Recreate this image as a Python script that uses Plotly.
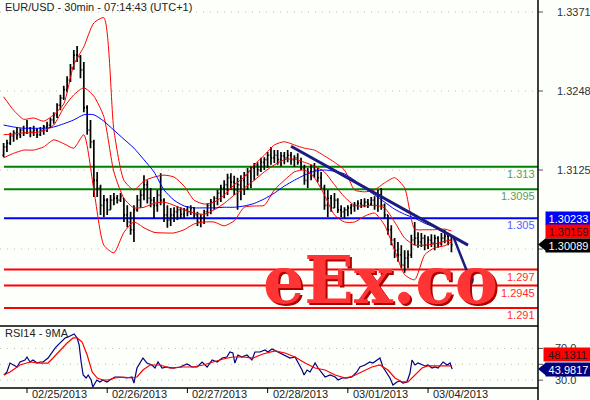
import plotly.graph_objects as go

# ---------------- data ----------------
bar_hours = [h for h in range(-7, 128)]  # hourly bar times, hours from 02/25 00:00 (trading hours)

bar_open = [1.3148,1.3161,1.3167,1.3178,1.3183,1.3180,1.3187,1.3183,1.3190,1.3184,
1.3187,1.3180,1.3187,1.3192,1.3195,1.3203,1.3211,1.3226,1.3237,1.3250,
1.3265,1.3284,1.3304,1.3301,1.3281,1.3222,1.3187,1.3169,1.3109,1.3097,
1.3070,1.3078,1.3063,1.3078,1.3081,1.3078,1.3081,1.3055,1.3044,1.3032,
1.3063,1.3078,1.3086,1.3102,1.3081,1.3078,1.3070,1.3086,1.3078,1.3055,
1.3047,1.3055,1.3060,1.3063,1.3056,1.3063,1.3060,1.3066,1.3055,1.3044,
1.3050,1.3060,1.3070,1.3075,1.3081,1.3089,1.3097,1.3102,1.3113,1.3106,
1.3094,1.3102,1.3109,1.3117,1.3122,1.3128,1.3133,1.3125,1.3137,1.3141,
1.3148,1.3144,1.3148,1.3141,1.3147,1.3144,1.3148,1.3141,1.3144,1.3137,
1.3128,1.3109,1.3122,1.3117,1.3125,1.3113,1.3097,1.3070,1.3081,1.3066,
1.3078,1.3063,1.3060,1.3063,1.3066,1.3069,1.3070,1.3073,1.3070,1.3075,
1.3072,1.3078,1.3070,1.3086,1.3070,1.3055,1.3032,1.3016,1.3000,1.2993,
1.2977,1.2988,1.2993,1.3016,1.3019,1.3013,1.3019,1.3008,1.3016,1.3011,
1.3019,1.3010,1.3019,1.3022,1.3016]

bar_high = [1.3167,1.3172,1.3183,1.3187,1.3192,1.3190,1.3194,1.3203,1.3192,1.3194,
1.3190,1.3192,1.3195,1.3200,1.3206,1.3215,1.3229,1.3242,1.3256,1.3271,
1.3290,1.3312,1.3318,1.3304,1.3293,1.3226,1.3203,1.3172,1.3122,1.3102,
1.3086,1.3081,1.3086,1.3089,1.3086,1.3089,1.3081,1.3070,1.3060,1.3070,
1.3086,1.3094,1.3117,1.3109,1.3097,1.3083,1.3094,1.3120,1.3081,1.3070,
1.3066,1.3067,1.3069,1.3067,1.3066,1.3069,1.3070,1.3067,1.3060,1.3056,
1.3063,1.3073,1.3080,1.3084,1.3094,1.3102,1.3109,1.3119,1.3120,1.3116,
1.3113,1.3117,1.3122,1.3128,1.3130,1.3136,1.3137,1.3144,1.3145,1.3153,
1.3161,1.3156,1.3156,1.3153,1.3153,1.3156,1.3153,1.3148,1.3151,1.3144,
1.3133,1.3128,1.3133,1.3136,1.3128,1.3122,1.3102,1.3094,1.3086,1.3089,
1.3081,1.3070,1.3067,1.3070,1.3072,1.3075,1.3078,1.3080,1.3081,1.3080,
1.3083,1.3084,1.3094,1.3097,1.3073,1.3055,1.3039,1.3019,1.3013,1.3008,
1.3000,1.3000,1.3024,1.3044,1.3028,1.3027,1.3024,1.3022,1.3025,1.3024,
1.3022,1.3027,1.3032,1.3025,1.3022]

bar_low = [1.3145,1.3153,1.3164,1.3169,1.3172,1.3175,1.3178,1.3181,1.3176,1.3178,
1.3175,1.3178,1.3180,1.3184,1.3190,1.3197,1.3206,1.3218,1.3234,1.3246,
1.3262,1.3281,1.3293,1.3268,1.3215,1.3180,1.3159,1.3083,1.3083,1.3055,
1.3052,1.3055,1.3063,1.3070,1.3073,1.3075,1.3044,1.3036,1.3024,1.3013,
1.3060,1.3066,1.3078,1.3073,1.3067,1.3050,1.3060,1.3070,1.3044,1.3035,
1.3038,1.3044,1.3047,1.3049,1.3050,1.3053,1.3055,1.3050,1.3038,1.3036,
1.3041,1.3053,1.3056,1.3063,1.3070,1.3075,1.3081,1.3086,1.3094,1.3086,
1.3063,1.3078,1.3086,1.3094,1.3097,1.3109,1.3116,1.3122,1.3125,1.3128,
1.3133,1.3136,1.3133,1.3131,1.3134,1.3137,1.3133,1.3130,1.3133,1.3125,
1.3102,1.3097,1.3109,1.3113,1.3106,1.3094,1.3063,1.3052,1.3060,1.3066,
1.3058,1.3052,1.3050,1.3053,1.3056,1.3060,1.3063,1.3066,1.3067,1.3066,
1.3069,1.3063,1.3060,1.3063,1.3050,1.3024,1.3008,1.2988,1.2982,1.2972,
1.2965,1.2972,1.2988,1.3008,1.3004,1.3005,1.3000,1.3002,1.3005,1.3000,
1.3004,1.3007,1.3011,1.3008,1.2997]

bar_close = [1.3161,1.3167,1.3178,1.3183,1.3180,1.3187,1.3183,1.3190,1.3184,1.3187,
1.3180,1.3187,1.3192,1.3195,1.3203,1.3211,1.3226,1.3237,1.3250,1.3265,
1.3284,1.3304,1.3301,1.3281,1.3222,1.3187,1.3169,1.3109,1.3097,1.3070,
1.3078,1.3063,1.3078,1.3081,1.3078,1.3084,1.3055,1.3044,1.3032,1.3063,
1.3078,1.3086,1.3102,1.3081,1.3078,1.3070,1.3086,1.3078,1.3055,1.3047,
1.3055,1.3060,1.3063,1.3056,1.3063,1.3060,1.3066,1.3055,1.3044,1.3050,
1.3060,1.3070,1.3075,1.3081,1.3089,1.3097,1.3102,1.3113,1.3106,1.3094,
1.3102,1.3109,1.3117,1.3122,1.3128,1.3133,1.3125,1.3137,1.3141,1.3148,
1.3144,1.3148,1.3141,1.3147,1.3144,1.3148,1.3141,1.3144,1.3137,1.3128,
1.3109,1.3122,1.3117,1.3125,1.3113,1.3097,1.3070,1.3081,1.3066,1.3078,
1.3063,1.3060,1.3063,1.3066,1.3069,1.3070,1.3073,1.3070,1.3075,1.3072,
1.3078,1.3070,1.3086,1.3070,1.3055,1.3032,1.3016,1.3000,1.2993,1.2977,
1.2988,1.2993,1.3016,1.3019,1.3013,1.3019,1.3008,1.3016,1.3011,1.3019,
1.3010,1.3019,1.3022,1.3016,1.30089]

band_hours = [-7,-4,-1,2,5,8,11,14,17,20,23,26,29,32,35,38,41,44,47,50,53,56,59,62,
              65,68,71,74,77,80,83,86,89,92,95,98,101,104,107,110,113,116,119,122,125,127]
bb_upper = [1.3239,1.3218,1.3204,1.3206,1.3201,1.3211,1.3228,1.3289,1.3317,1.3354,1.3362,1.3187,
            1.3109,1.3094,1.3108,1.3114,1.3117,1.3114,1.3100,1.3078,1.3072,1.3075,1.3086,1.3102,
            1.3114,1.3133,1.3148,1.3164,1.3169,1.3164,1.3159,1.3156,1.3147,1.3137,1.3125,1.3094,
            1.3091,1.3094,1.3105,1.3113,1.3097,1.3033,1.3032,1.3032,1.3033,1.3030]
bb_middle = [1.3180,1.3181,1.3183,1.3183,1.3186,1.3195,1.3222,1.3242,1.3253,1.3240,1.3208,1.3122,
             1.3081,1.3066,1.3067,1.3073,1.3075,1.3070,1.3063,1.3058,1.3056,1.3063,1.3073,1.3086,
             1.3097,1.3109,1.3122,1.3133,1.3141,1.3142,1.3137,1.3131,1.3122,1.3102,1.3083,1.3070,
             1.3069,1.3070,1.3066,1.3044,1.3019,1.3008,1.3008,1.3010,1.3014,1.30159]
bb_lower = [1.3144,1.3151,1.3156,1.3156,1.3161,1.3172,1.3166,1.3159,1.3180,1.3094,1.3008,1.2996,
            1.3028,1.3044,1.3035,1.3028,1.3027,1.3027,1.3032,1.3041,1.3044,1.3044,1.3038,1.3046,
            1.3067,1.3069,1.3070,1.3094,1.3109,1.3122,1.3125,1.3113,1.3086,1.3055,1.3044,1.3044,
            1.3053,1.3058,1.3039,1.3000,1.2962,1.2954,1.2993,1.3004,1.3007,1.3013]
ma_slow = [1.3195,1.3192,1.3190,1.3190,1.3190,1.3192,1.3197,1.3203,1.3211,1.3211,1.3201,1.3187,
           1.3173,1.3159,1.3141,1.3122,1.3094,1.3078,1.3069,1.3066,1.3066,1.3066,1.3067,1.3067,
           1.3069,1.3073,1.3080,1.3089,1.3100,1.3109,1.3117,1.3123,1.3125,1.3123,1.3119,1.3109,
           1.3097,1.3086,1.3075,1.3064,1.3056,1.3050,1.3042,1.3036,1.3028,1.30233]

rsi_hours = [-6.9,-6.0,-5.1,-4.2,-3.0,-2.1,-0.6,0,0.9,1.8,3.0,3.9,4.8,6.3,7.5,8.4,9.3,10.5,11.4,12.3,
             13.5,14.1,15.0,15.6,16.2,16.8,17.7,18.3,19.2,19.7,20.9,21.8,22.7,23.9,24.8,26.3,27.8,29.9,
             31.4,32.0,32.9,33.8,34.7,35.9,37.4,38.3,39.2,40.4,41.9,43.7,45.8,47.9,49.4,50.9,52.4,53.9,
             55.4,56.9,58.4,59.8,60.7,61.6,62.2,63.1,64.3,65.8,67.3,68.2,69.7,71.2,72.1,73.3,75.1,77.2,
             78.7,80.2,81.1,82.3,82.9,83.8,84.7,86.2,87.1,88.3,89.2,90.7,92.2,93.1,94.3,95.8,97.2,98.7,
             99.6,101.1,102.6,103.5,104.7,105.6,106.5,107.7,108.6,109.5,110.7,111.6,112.5,113.7,114.6,
             115.2,116.1,117.0,118.2,119.1,120.0,121.2,122.1,123.0,124.5,125.7,126.6,127.2]
rsi_values = [36.5,40.3,51.6,49.1,46.6,52.9,55.4,59.2,52.9,55.4,51.6,52.9,52.9,57.9,65.5,70.5,74.4,79.4,83.2,84.5,
              87.0,88.2,83.2,74.4,52.9,36.5,32.7,36.5,30.2,21.3,30.2,27.7,30.2,27.7,30.2,34.0,34.0,32.7,
              34.0,26.4,45.3,51.6,57.9,51.6,49.1,45.3,52.9,45.3,46.6,45.3,46.6,50.4,46.6,46.6,52.9,46.6,
              55.4,52.9,57.9,59.2,65.5,64.3,51.6,61.7,59.2,61.7,55.4,65.5,65.5,68.0,65.5,69.3,65.5,61.7,
              57.9,59.2,52.9,42.8,36.5,42.8,40.3,51.6,45.3,39.0,34.0,36.5,34.0,30.2,32.7,32.7,34.0,40.3,
              46.6,49.1,52.9,51.6,55.4,57.9,46.6,39.0,32.7,23.9,27.7,28.9,26.4,27.7,39.0,
              55.4,49.1,51.6,49.1,47.9,49.1,45.3,46.6,45.3,52.9,49.1,51.6,43.9817]

rsi_ma_hours = [-6.9,-5.1,-2.1,0.9,3.9,6.3,7.8,9.9,12.0,13.8,15.0,16.5,18.0,19.5,21.0,22.7,24.2,26.3,28.7,
                31.4,32.9,34.7,36.8,39.8,42.8,46.7,49.7,52.7,55.7,58.7,61.6,64.6,67.6,70.6,74.2,77.2,
                80.2,83.2,86.2,89.2,92.2,95.2,97.6,100.3,103.2,105.6,108.0,110.1,112.2,114.0,116.1,
                118.2,120.0,122.1,125.1,127.2]
rsi_ma_values = [36.5,40.3,49.1,52.9,51.6,51.6,57.9,68.0,76.9,83.2,83.2,78.1,61.7,40.3,32.7,30.2,30.2,32.7,34.0,
                 32.7,34.0,42.8,49.1,49.1,45.3,46.6,46.6,49.1,52.9,56.7,59.2,59.2,57.9,63.0,66.8,64.3,
                 59.2,51.6,45.3,42.8,36.5,32.7,35.2,40.3,46.6,49.1,42.8,32.7,27.7,27.7,36.5,
                 45.3,47.9,47.9,47.9,48.1311]

level_prices = [1.313, 1.3095, 1.305, 1.297, 1.2945, 1.291]
level_labels = ["1.313", "1.3095", "1.305", "1.297", "1.2945", "1.291"]
grid_prices = [1.3371, 1.3248, 1.3125, 1.3002]
axis_price_labels = ["1.3371", "1.3248", "1.3125", ""]
rsi_grid = [70, 50, 30]
rsi_axis_labels = ["70.0", "", "30.0"]
date_hours = [0, 24, 48, 72, 96, 120]
date_labels = ["02/25/2013", "02/26/2013", "02/27/2013", "02/28/2013", "03/01/2013", "03/04/2013"]
trend_hours = [79.0, 131.96]
trend_prices = [1.3162, 1.3008]
drop_hours = [127.5, 132.5]
drop_prices = [1.3022, 1.2956]

# ---------------- styling ----------------
BG = "#FDFFFB"
FONT = "Liberation Sans, Arial, sans-serif"
PLOT_W = 538.0
PLOT_H = 388.0
SPLIT = (388 - 326) / PLOT_H
level_colors = ["#008000", "#008000", "#0000FF", "#FF0000", "#FF0000", "#FF0000"]
level_text_colors = ["#5E9A5E", "#5E9A5E", "#5A5AFF", "#FF3030", "#FF3030", "#FF3030"]

fig = go.Figure()

fig.add_trace(go.Ohlc(x=bar_hours, open=bar_open, high=bar_high, low=bar_low, close=bar_close,
                      increasing=dict(line=dict(color="black", width=1.7)),
                      decreasing=dict(line=dict(color="black", width=1.7)),
                      tickwidth=0.35, hoverinfo="skip", xaxis="x", yaxis="y"))
for arr, col in [(bb_upper, "#FF0000"), (bb_middle, "#FF0000"), (bb_lower, "#FF0000"), (ma_slow, "#0000FF")]:
    fig.add_trace(go.Scatter(x=band_hours, y=arr, mode="lines", line=dict(color=col, width=1, shape="spline", smoothing=0.6),
                             hoverinfo="skip", xaxis="x", yaxis="y"))
fig.add_trace(go.Scatter(x=rsi_hours, y=rsi_values, mode="lines", line=dict(color="#000080", width=1.2),
                         hoverinfo="skip", xaxis="x", yaxis="y2"))
fig.add_trace(go.Scatter(x=rsi_ma_hours, y=rsi_ma_values, mode="lines", line=dict(color="#FF0000", width=1.2),
                         hoverinfo="skip", xaxis="x", yaxis="y2"))

shapes = []
ann = []
# dotted grid
for p in grid_prices:
    shapes.append(dict(type="line", xref="paper", x0=0, x1=1, yref="y", y0=p, y1=p, layer="below",
                       line=dict(color="#BDBDBD", width=1, dash="1px,6px")))
    shapes.append(dict(type="line", xref="paper", x0=1, x1=1 + 5 / PLOT_W, yref="y", y0=p, y1=p,
                       line=dict(color="#555555", width=1)))
for v in rsi_grid:
    shapes.append(dict(type="line", xref="paper", x0=0, x1=1, yref="y2", y0=v, y1=v, layer="below",
                       line=dict(color="#BDBDBD", width=1, dash="1px,6px")))
    shapes.append(dict(type="line", xref="paper", x0=1, x1=1 + 5 / PLOT_W, yref="y2", y0=v, y1=v,
                       line=dict(color="#555555", width=1)))
# levels
for p, lab, c, tc in zip(level_prices, level_labels, level_colors, level_text_colors):
    shapes.append(dict(type="line", xref="paper", x0=4 / PLOT_W, x1=1, yref="y", y0=p, y1=p, layer="below",
                       line=dict(color=c, width=2)))
    ann.append(dict(text=lab, xref="paper", x=1, xanchor="right", xshift=-1, yref="y", y=p, yshift=-7,
                    yanchor="middle", showarrow=False, font=dict(family=FONT, size=11, color=tc)))
# frame lines
shapes.append(dict(type="line", xref="paper", x0=1, x1=1, yref="paper", y0=-12 / PLOT_H, y1=1,
                   line=dict(color="black", width=1.5)))
shapes.append(dict(type="line", xref="paper", x0=0, x1=1, yref="paper", y0=SPLIT, y1=SPLIT,
                   line=dict(color="black", width=1.5)))
shapes.append(dict(type="line", xref="paper", x0=0, x1=1, yref="paper", y0=0, y1=0,
                   line=dict(color="black", width=1.5)))
# date ticks and labels
for h, lab in zip(date_hours, date_labels):
    shapes.append(dict(type="line", xref="x", x0=h, x1=h, yref="paper", y0=0, y1=-5 / PLOT_H,
                       line=dict(color="black", width=1)))
    ann.append(dict(text=lab, xref="x", x=h, xshift=3, xanchor="left", yref="paper", y=0, yshift=-6,
                    yanchor="middle", showarrow=False, font=dict(family=FONT, size=11, color="#222222")))
# right axis labels
for p, lab in zip(grid_prices, axis_price_labels):
    if lab:
        ann.append(dict(text=lab, xref="paper", x=1, xshift=17, xanchor="left", yref="y", y=p,
                        yanchor="middle", showarrow=False, font=dict(family=FONT, size=11, color="#333333")))
for v, lab in zip(rsi_grid, rsi_axis_labels):
    if lab:
        ann.append(dict(text=lab, xref="paper", x=1, xshift=15, xanchor="left", yref="y2", y=v,
                        yanchor="middle", showarrow=False, font=dict(family=FONT, size=11, color="#333333")))

# value boxes
def box(text, yref, yval, yshift, bg, fg, arrow, xs=7, w=43):
    ann.append(dict(text=text, xref="paper", x=1, xshift=xs, xanchor="left", yref=yref, y=yval, yshift=yshift,
                    yanchor="middle", showarrow=False, bgcolor=bg, width=w, height=11, borderpad=1,
                    align="center", font=dict(family=FONT, size=11, color=fg)))
    if arrow:
        shapes.append(dict(type="path", xref="paper", xsizemode="pixel", xanchor=1,
                           yref=yref, ysizemode="pixel", yanchor=yval,
                           path="M 0 0 L 8 6.5 L 8 -6.5 Z", fillcolor=bg, line=dict(width=0)))

last_close = bar_close[-1]
box("%.5f" % ma_slow[-1], "y", last_close, 26, "#0000FF", "white", False)
box("%.5f" % bb_middle[-1], "y", last_close, 13, "#FF0000", "#1a1a1a", False)
box("%.5f" % last_close, "y", last_close, -1, "#000000", "white", True)
box("%.4f" % rsi_ma_values[-1], "y2", rsi_ma_values[-1], 11, "#FF0000", "#1a1a1a", False, 5, 45)
box("%.4f" % rsi_values[-1], "y2", rsi_values[-1], 0, "#000080", "white", True)

# trend lines
shapes.append(dict(type="line", xref="x", yref="y", x0=trend_hours[0], y0=trend_prices[0],
                   x1=trend_hours[1], y1=trend_prices[1], line=dict(color="#1C1C80", width=3)))
shapes.append(dict(type="line", xref="x", yref="y", x0=drop_hours[0], y0=drop_prices[0],
                   x1=drop_hours[1], y1=drop_prices[1], line=dict(color="#1C1C80", width=2.5)))
shapes.append(dict(type="circle", xref="x", xsizemode="pixel", xanchor=drop_hours[1], x0=-4, x1=4,
                   yref="y", ysizemode="pixel", yanchor=drop_prices[1], y0=-7, y1=5,
                   fillcolor="#1C1C80", line=dict(width=0)))

# titles
ann.append(dict(text="EUR/USD - 30min - 07:14:43 (UTC+1)", xref="paper", x=0, xshift=3, xanchor="left",
                yref="paper", y=1, yshift=-7, yanchor="middle", showarrow=False,
                font=dict(family=FONT, size=11, color="#222222")))
ann.append(dict(text="RSI14 - 9MA", xref="paper", x=0, xshift=3, xanchor="left",
                yref="paper", y=SPLIT, yshift=-7, yanchor="middle", showarrow=False,
                font=dict(family=FONT, size=11, color="#222222")))
# watermark
WM_X = 380 / PLOT_W
WM_Y = (388 - 280) / PLOT_H
ann.append(dict(text="<b>eEx.co</b>", xref="paper", x=WM_X, xshift=2, xanchor="center", yref="paper", y=WM_Y,
                yshift=-2, yanchor="middle", showarrow=False,
                font=dict(family="DejaVu Serif", size=65, color="#B00000")))
ann.append(dict(text="<b>eEx.co</b>", xref="paper", x=WM_X, xanchor="center", yref="paper", y=WM_Y,
                yanchor="middle", showarrow=False,
                font=dict(family="DejaVu Serif", size=65, color="#FF3535")))

fig.update_layout(
    width=590, height=400, margin=dict(l=0, r=52, t=0, b=12),
    paper_bgcolor=BG, plot_bgcolor=BG, showlegend=False,
    xaxis=dict(range=[-8.08, 152.9], showgrid=False, zeroline=False, showticklabels=False, showline=False,
               rangeslider=dict(visible=False), anchor="y2", ticks=""),
    yaxis=dict(domain=[SPLIT, 1], range=[1.28821, 1.33897], showgrid=False, zeroline=False,
               showticklabels=False, ticks=""),
    yaxis2=dict(domain=[0, SPLIT], range=[20.1, 98.3], showgrid=False, zeroline=False,
                showticklabels=False, ticks=""),
    shapes=shapes, annotations=ann,
)

fig.write_html("out.html", config={"displayModeBar": False},
               post_script="document.body.style.margin='0';document.body.style.padding='0';")
